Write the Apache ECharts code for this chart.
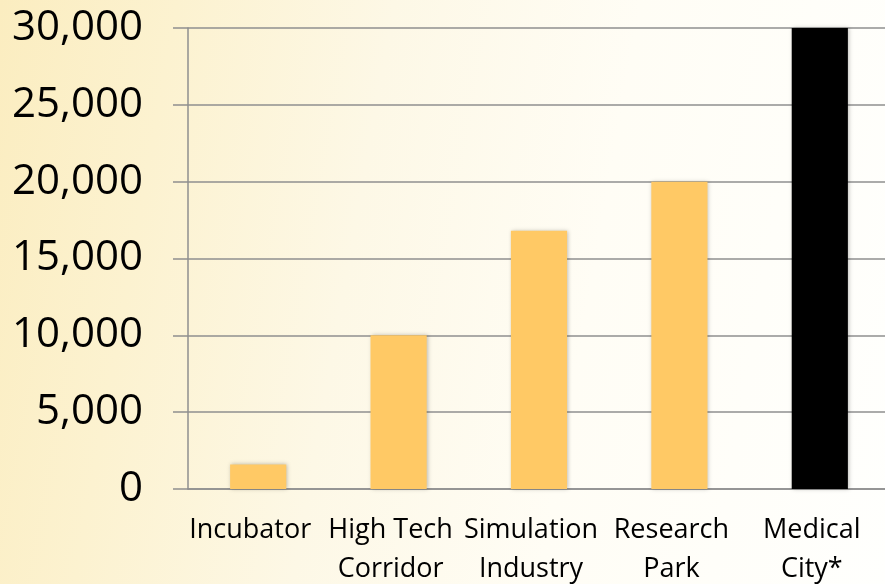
<!DOCTYPE html>
<html>
<head>
<meta charset="utf-8">
<script src="https://cdn.jsdelivr.net/npm/echarts@6/dist/echarts.min.js"></script>
<style>
html,body{margin:0;padding:0;width:885px;height:584px;overflow:hidden;}
body{background:linear-gradient(100deg,#fbedc0 0%,#fcf2d0 18%,#fdf8e6 40%,#fffdf5 65%,#fffffd 100%);}
#chart{width:885px;height:584px;}
</style>
</head>
<body>
<div id="chart"></div>
<script>
const categories = ["Incubator", "High Tech\nCorridor", "Simulation\nIndustry", "Research\nPark", "Medical\nCity*"];
const values = [1600, 10000, 16800, 20000, 30000];
const barColors = ["#FFC965", "#FFC965", "#FFC965", "#FFC965", "#000000"];
const yTicks = { min: 0, max: 30000, interval: 5000 };

const chart = echarts.init(document.getElementById('chart'), null, {renderer: 'canvas'});
const gridColor = '#8f8f8f';
chart.setOption({
  backgroundColor: 'transparent',
  animation: false,
  grid: { left: 188, top: 28, width: 702, height: 461, containLabel: false, outerBoundsMode: 'none' },
  xAxis: {
    type: 'category',
    data: categories,
    axisLine: { show: true, lineStyle: { color: gridColor, width: 1.5 } },
    axisTick: { show: false },
    axisLabel: {
      interval: 0,
      margin: 22,
      fontFamily: 'Open Sans',
      fontSize: 27,
      lineHeight: 39,
      color: '#000',
      padding: [0, 16, 0, 0]
    }
  },
  yAxis: {
    type: 'value',
    min: yTicks.min,
    max: yTicks.max,
    interval: yTicks.interval,
    axisLine: { show: true, lineStyle: { color: gridColor, width: 1.5 } },
    axisTick: { show: true, length: 15, lineStyle: { color: gridColor, width: 1.5 } },
    splitLine: { show: true, lineStyle: { color: gridColor, width: 1.5 } },
    axisLabel: {
      margin: 45,
      fontFamily: 'Open Sans',
      fontSize: 42,
      color: '#000',
      formatter: v => v.toLocaleString('en-US')
    }
  },
  series: [{
    type: 'bar',
    barWidth: '40%',
    data: values.map((v, i) => ({
      value: v,
      itemStyle: {
        color: barColors[i],
        shadowBlur: 4,
        shadowColor: 'rgba(0,0,0,0.25)',
        shadowOffsetX: 1,
        shadowOffsetY: 0
      }
    }))
  }]
});
</script>
</body>
</html>
